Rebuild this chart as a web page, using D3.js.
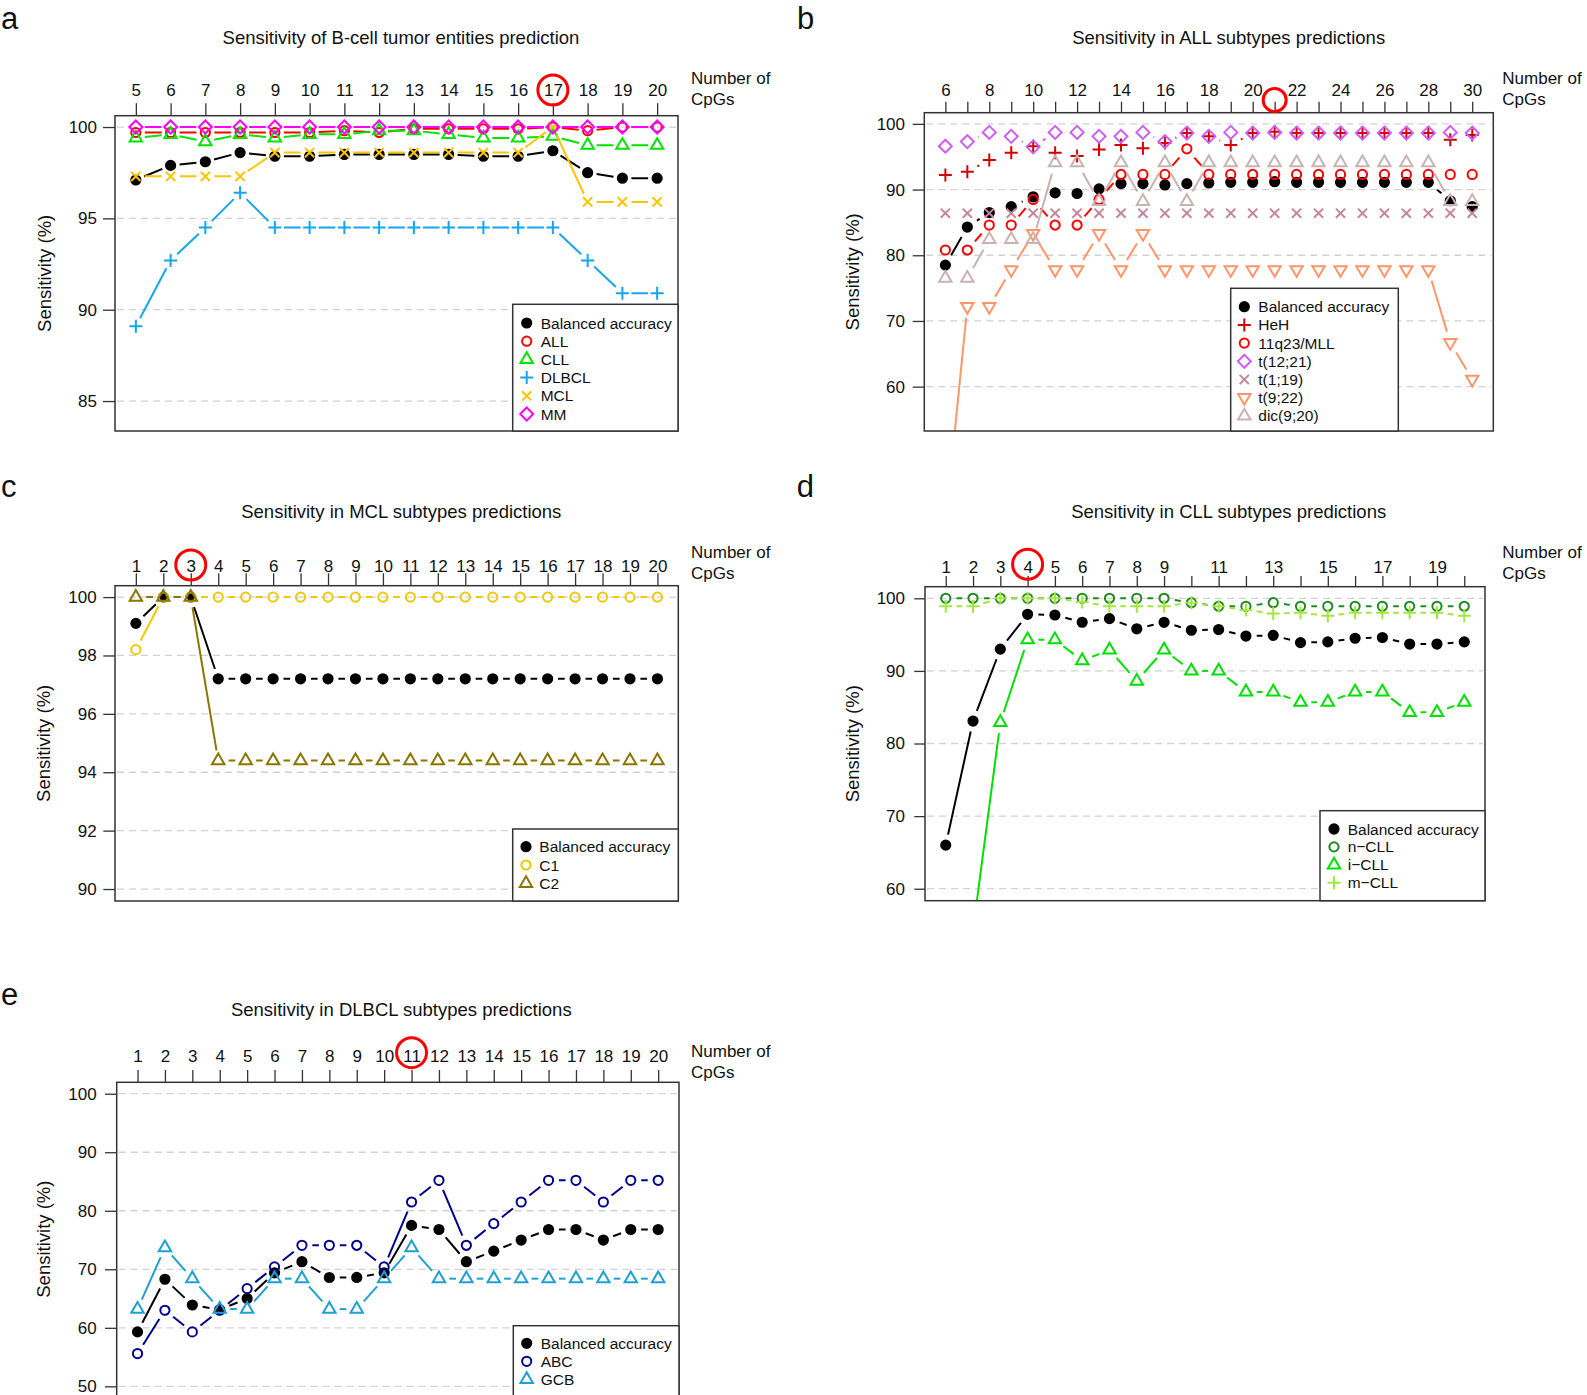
<!DOCTYPE html>
<html>
<head>
<meta charset="utf-8">
<script src="https://cdn.jsdelivr.net/npm/d3@7"></script>
<style>
  body { margin: 0; background: #fff; }
  svg { display: block; }
  text { font-family: "Liberation Sans", Arial, Helvetica, sans-serif; fill: #111; }
</style>
</head>
<body>
<svg id="fig" width="1587" height="1395"></svg>
<script>
// ---- data ----

// panel a: B-cell tumor entities
const cpgA = [5, 6, 7, 8, 9, 10, 11, 12, 13, 14, 15, 16, 17, 18, 19, 20];
const aBalanced = [97.1, 97.9, 98.1, 98.6, 98.4, 98.4, 98.5, 98.5, 98.5, 98.5, 98.4, 98.4, 98.7, 97.5, 97.2, 97.2];
const aALL   = [99.7, 99.7, 99.7, 99.7, 99.7, 99.7, 99.8, 99.7, 99.9, 99.9, 99.9, 99.9, 100, 99.8, 100, 100];
const aCLL   = [99.4, 99.6, 99.2, 99.6, 99.4, 99.6, 99.6, 99.8, 99.8, 99.6, 99.4, 99.4, 99.5, 99.0, 99.0, 99.0];
const aDLBCL = [89.1, 92.7, 94.5, 96.4, 94.5, 94.5, 94.5, 94.5, 94.5, 94.5, 94.5, 94.5, 94.5, 92.7, 90.9, 90.9];
const aMCL   = [97.3, 97.3, 97.3, 97.3, 98.6, 98.6, 98.6, 98.6, 98.6, 98.6, 98.6, 98.6, 100, 95.9, 95.9, 95.9];
const aMM    = [100, 100, 100, 100, 100, 100, 100, 100, 100, 100, 100, 100, 100, 100, 100, 100];
const yTicksA = [85, 90, 95, 100];

// panel b: ALL subtypes
const cpgB = [6, 7, 8, 9, 10, 11, 12, 13, 14, 15, 16, 17, 18, 19, 20, 21, 22, 23, 24, 25, 26, 27, 28, 29, 30];
const cpgLabelsB = [6, 8, 10, 12, 14, 16, 18, 20, 22, 24, 26, 28, 30];
const bBalanced = [78.5, 84.3, 86.5, 87.4, 88.9, 89.5, 89.4, 90.1, 90.9, 90.9, 90.7, 90.9, 91.0, 91.1, 91.1, 91.2, 91.1, 91.1, 91.1, 91.1, 91.1, 91.1, 91.1, 88.3, 87.4];
const bHeH    = [92.2, 92.7, 94.5, 95.6, 96.6, 95.6, 95.1, 96.1, 96.8, 96.3, 97.1, 98.6, 98.1, 96.8, 98.6, 98.8, 98.6, 98.6, 98.6, 98.6, 98.6, 98.6, 98.6, 97.6, 98.3];
const bMLL    = [80.8, 80.8, 84.6, 84.6, 88.5, 84.6, 84.6, 88.5, 92.3, 92.3, 92.3, 96.2, 92.3, 92.3, 92.3, 92.3, 92.3, 92.3, 92.3, 92.3, 92.3, 92.3, 92.3, 92.3, 92.3];
const bT1221  = [96.6, 97.3, 98.7, 98.1, 96.5, 98.7, 98.7, 98.1, 98.1, 98.7, 97.3, 98.6, 98.1, 98.7, 98.6, 98.7, 98.6, 98.6, 98.6, 98.6, 98.6, 98.6, 98.6, 98.7, 98.6];
const bT119   = [86.4, 86.4, 86.4, 86.4, 86.4, 86.4, 86.4, 86.4, 86.4, 86.4, 86.4, 86.4, 86.4, 86.4, 86.4, 86.4, 86.4, 86.4, 86.4, 86.4, 86.4, 86.4, 86.4, 86.4, 86.4];
const bT922   = [38.9, 72.2, 72.2, 77.8, 83.3, 77.8, 77.8, 83.3, 77.8, 83.3, 77.8, 77.8, 77.8, 77.8, 77.8, 77.8, 77.8, 77.8, 77.8, 77.8, 77.8, 77.8, 77.8, 66.7, 61.1];
const bDic920 = [76.5, 76.5, 82.4, 82.4, 82.4, 94.1, 94.1, 88.2, 94.1, 88.2, 94.1, 88.2, 94.1, 94.1, 94.1, 94.1, 94.1, 94.1, 94.1, 94.1, 94.1, 94.1, 94.1, 88.2, 88.2];
const yTicksB = [60, 70, 80, 90, 100];

// panel c: MCL subtypes
const cpgC = [1, 2, 3, 4, 5, 6, 7, 8, 9, 10, 11, 12, 13, 14, 15, 16, 17, 18, 19, 20];
const cBalanced = [99.1, 100, 100, 97.2, 97.2, 97.2, 97.2, 97.2, 97.2, 97.2, 97.2, 97.2, 97.2, 97.2, 97.2, 97.2, 97.2, 97.2, 97.2, 97.2];
const cC1 = [98.2, 100, 100, 100, 100, 100, 100, 100, 100, 100, 100, 100, 100, 100, 100, 100, 100, 100, 100, 100];
const cC2 = [100, 100, 100, 94.4, 94.4, 94.4, 94.4, 94.4, 94.4, 94.4, 94.4, 94.4, 94.4, 94.4, 94.4, 94.4, 94.4, 94.4, 94.4, 94.4];
const yTicksC = [90, 92, 94, 96, 98, 100];

// panel d: CLL subtypes
const cpgD = [1, 2, 3, 4, 5, 6, 7, 8, 9, 10, 11, 12, 13, 14, 15, 16, 17, 18, 19, 20];
const cpgLabelsD = [1, 2, 3, 4, 5, 6, 7, 8, 9, 11, 13, 15, 17, 19];
const dBalanced = [66.0, 83.1, 93.0, 97.8, 97.7, 96.7, 97.2, 95.8, 96.7, 95.6, 95.7, 94.8, 94.9, 93.9, 94.0, 94.5, 94.6, 93.7, 93.7, 94.0];
const dNCLL = [100, 100, 100, 100, 100, 100, 100, 100, 100, 99.4, 98.9, 98.9, 99.4, 98.9, 98.9, 98.9, 98.9, 98.9, 98.9, 98.9];
const dICLL = [31.4, 54.3, 82.9, 94.3, 94.3, 91.4, 92.9, 88.6, 92.9, 90.0, 90.0, 87.1, 87.1, 85.7, 85.7, 87.1, 87.1, 84.3, 84.3, 85.7];
const dMCLL = [98.9, 98.9, 100, 100, 100, 99.5, 98.9, 98.9, 98.9, 99.4, 98.9, 98.4, 97.9, 98.0, 97.6, 98.0, 98.0, 98.0, 98.0, 97.6];
const yTicksD = [60, 70, 80, 90, 100];

// panel e: DLBCL subtypes
const cpgE = [1, 2, 3, 4, 5, 6, 7, 8, 9, 10, 11, 12, 13, 14, 15, 16, 17, 18, 19, 20];
const eBalanced = [59.3, 68.3, 63.9, 63.1, 65.0, 69.4, 71.3, 68.6, 68.6, 69.4, 77.5, 76.8, 71.3, 73.1, 75.0, 76.8, 76.8, 75.0, 76.8, 76.8];
const eABC = [55.6, 63.0, 59.3, 63.0, 66.7, 70.4, 74.1, 74.1, 74.1, 70.4, 81.5, 85.2, 74.1, 77.8, 81.5, 85.2, 85.2, 81.5, 85.2, 85.2];
const eGCB = [63.2, 73.7, 68.4, 63.2, 63.2, 68.4, 68.4, 63.2, 63.2, 68.4, 73.7, 68.4, 68.4, 68.4, 68.4, 68.4, 68.4, 68.4, 68.4, 68.4];
const yTicksE = [50, 60, 70, 80, 90, 100];

const titles = [
  "Sensitivity of B-cell tumor entities prediction",
  "Sensitivity in ALL subtypes predictions",
  "Sensitivity in MCL subtypes predictions",
  "Sensitivity in CLL subtypes predictions",
  "Sensitivity in DLBCL subtypes predictions"
];
const chosenCpG = [17, 21, 3, 4, 11];

// ---- drawing ----
const svg = d3.select("#fig");
const RAD = 4.6;

function markPath(shape, cx, cy) {
  const p = d3.path();
  const s2 = Math.SQRT2 * RAD;
  if (shape === "dot" || shape === "circle") {
    p.moveTo(cx + RAD, cy);
    p.arc(cx, cy, RAD, 0, 2 * Math.PI);
  } else if (shape === "tri" || shape === "down") {
    const k = shape === "tri" ? 1 : -1;
    p.moveTo(cx, cy - k * 1.555 * RAD);
    p.lineTo(cx + 1.347 * RAD, cy + k * 0.778 * RAD);
    p.lineTo(cx - 1.347 * RAD, cy + k * 0.778 * RAD);
    p.closePath();
  } else if (shape === "plus") {
    p.moveTo(cx - s2, cy); p.lineTo(cx + s2, cy);
    p.moveTo(cx, cy - s2); p.lineTo(cx, cy + s2);
  } else if (shape === "times") {
    p.moveTo(cx - RAD, cy - RAD); p.lineTo(cx + RAD, cy + RAD);
    p.moveTo(cx - RAD, cy + RAD); p.lineTo(cx + RAD, cy - RAD);
  } else if (shape === "diamond") {
    p.moveTo(cx, cy - s2); p.lineTo(cx + s2, cy);
    p.lineTo(cx, cy + s2); p.lineTo(cx - s2, cy);
    p.closePath();
  }
  return p.toString();
}

function drawPanel(cfg) {
  const [x0, x1, y0, y1] = cfg.box;
  const x = d3.scaleLinear().domain(cfg.xDomain).range([x0, x1]);
  const y = d3.scaleLinear().domain(cfg.yDomain).range([y1, y0]);
  const g = svg.append("g");

  const clipId = "clip-" + cfg.letter;
  svg.append("clipPath").attr("id", clipId)
    .append("rect").attr("x", x0).attr("y", y0).attr("width", x1 - x0).attr("height", y1 - y0);

  // dashed grid
  g.append("g").selectAll("line").data(cfg.yTicks).join("line")
    .attr("x1", x0 + 2).attr("x2", x1 - 2)
    .attr("y1", d => y(d)).attr("y2", d => y(d))
    .attr("stroke", "#d2d2d2").attr("stroke-width", 1.3)
    .attr("stroke-dasharray", "7,5");

  // series, R type="b" style: segments with a gap round each point
  const plot = g.append("g").attr("clip-path", `url(#${clipId})`);
  cfg.series.forEach(s => {
    const pts = s.values.map((v, i) => [x(cfg.xVals[i]), y(v)]);
    const segs = d3.pairs(pts).map(([a, b]) => {
      const dx = b[0] - a[0], dy = b[1] - a[1];
      const len = Math.hypot(dx, dy);
      if (len <= 2 * cfg.gap) return null;
      const ux = dx / len, uy = dy / len;
      return [a[0] + ux * cfg.gap, a[1] + uy * cfg.gap, b[0] - ux * cfg.gap, b[1] - uy * cfg.gap];
    }).filter(d => d);
    plot.append("g").selectAll("line").data(segs).join("line")
      .attr("x1", d => d[0]).attr("y1", d => d[1])
      .attr("x2", d => d[2]).attr("y2", d => d[3])
      .attr("stroke", s.color).attr("stroke-width", 2);
    plot.append("g").selectAll("path").data(pts).join("path")
      .attr("d", p => markPath(s.shape, p[0], p[1]))
      .attr("fill", s.shape === "dot" ? s.color : "none")
      .attr("stroke", s.color).attr("stroke-width", 2);
  });

  // plot box
  g.append("rect").attr("x", x0).attr("y", y0)
    .attr("width", x1 - x0).attr("height", y1 - y0)
    .attr("fill", "none").attr("stroke", "#333").attr("stroke-width", 1.5);

  // top axis (number of CpGs)
  const xAxis = d3.axisTop(x).tickValues(cfg.xVals)
    .tickSize(cfg.xTick).tickPadding(cfg.xPad)
    .tickFormat(d => cfg.xLabels.includes(d) ? d : "");
  const gx = g.append("g").attr("transform", `translate(0,${y0})`).call(xAxis);
  gx.select(".domain").remove();
  gx.attr("font-size", null).attr("font-family", null);
  gx.selectAll("line").attr("stroke", "#333").attr("stroke-width", 1.3);
  gx.selectAll("text").style("font-size", "17px");

  // left axis
  const yAxis = d3.axisLeft(y).tickValues(cfg.yTicks).tickSize(cfg.yTick).tickPadding(cfg.yPad);
  const gy = g.append("g").attr("transform", `translate(${x0},0)`).call(yAxis);
  gy.select(".domain").remove();
  gy.attr("font-size", null).attr("font-family", null);
  gy.selectAll("line").attr("stroke", "#333").attr("stroke-width", 1.3);
  gy.selectAll("text").style("font-size", "17px");

  // labels
  g.append("text").attr("x", cfg.titleX).attr("y", cfg.titleY).attr("dy", "0.35em")
    .attr("text-anchor", "middle").style("font-size", "18.5px").text(cfg.title);
  g.append("text")
    .attr("transform", `translate(${cfg.ylabX},${(y0 + y1) / 2}) rotate(-90)`)
    .attr("dy", "0.35em").attr("text-anchor", "middle")
    .style("font-size", "18.5px").text("Sensitivity (%)");
  const nt = g.append("text").attr("x", cfg.cpgX).style("font-size", "17px");
  nt.append("tspan").attr("x", cfg.cpgX).attr("y", cfg.cpgY).attr("dy", "0.35em").text("Number of");
  nt.append("tspan").attr("x", cfg.cpgX).attr("y", cfg.cpgY + 21).attr("dy", "0.35em").text("CpGs");
  g.append("text").attr("x", cfg.letterX).attr("y", cfg.letterY)
    .style("font-size", "31px").text(cfg.letter);

  // chosen number of CpGs
  g.append("circle").attr("cx", x(cfg.chosen)).attr("cy", cfg.ringY).attr("r", cfg.ringR)
    .attr("fill", "none").attr("stroke", "#ff0000").attr("stroke-width", 3);

  // legend
  const [lx0, lx1, ly0, ly1] = cfg.legBox;
  const lg = g.append("g");
  lg.append("rect").attr("x", lx0).attr("y", ly0).attr("width", lx1 - lx0).attr("height", ly1 - ly0)
    .attr("fill", "#fff").attr("stroke", "#333").attr("stroke-width", 1.5);
  const rows = lg.selectAll("g.row").data(cfg.series).join("g").attr("class", "row")
    .attr("transform", (d, i) => `translate(0,${cfg.legY + i * cfg.legStep})`);
  rows.append("path").attr("d", d => markPath(d.shape, cfg.legSymX, 0))
    .attr("fill", d => d.shape === "dot" ? d.color : "none")
    .attr("stroke", d => d.color).attr("stroke-width", 2);
  rows.append("text").attr("x", cfg.legTextX).attr("dy", "0.36em")
    .style("font-size", "15.5px").text(d => d.name);
}

const panels = [
  {
    letter: "a", letterX: 1, letterY: 28.5,
    box: [115, 678, 115.7, 431], xDomain: [4.4, 20.6], yDomain: [83.36, 100.62],
    xVals: cpgA, xLabels: cpgA, yTicks: yTicksA,
    xTick: 12.5, xPad: 7, yTick: 12, yPad: 6, gap: 9,
    title: titles[0], titleX: 401, titleY: 38, ylabX: 45,
    cpgX: 691, cpgY: 78, chosen: chosenCpG[0], ringY: 90, ringR: 15,
    legBox: [512.7, 678, 304.3, 431], legY: 323, legStep: 18.2, legSymX: 526.7, legTextX: 540.7,
    series: [
      { name: "Balanced accuracy", values: aBalanced, shape: "dot", color: "#000000" },
      { name: "ALL", values: aALL, shape: "circle", color: "#ff0000" },
      { name: "CLL", values: aCLL, shape: "tri", color: "#00e400" },
      { name: "DLBCL", values: aDLBCL, shape: "plus", color: "#14a6ea" },
      { name: "MCL", values: aMCL, shape: "times", color: "#ffc400" },
      { name: "MM", values: aMM, shape: "diamond", color: "#ff00ff" }
    ]
  },
  {
    letter: "b", letterX: 797, letterY: 28.5,
    box: [924.3, 1493.3, 112.7, 431], xDomain: [5.04, 30.96], yDomain: [53.25, 101.7],
    xVals: cpgB, xLabels: cpgLabelsB, yTicks: yTicksB,
    xTick: 11, xPad: 5.6, yTick: 11.6, yPad: 7.7, gap: 11.5,
    title: titles[1], titleX: 1228.7, titleY: 38, ylabX: 853,
    cpgX: 1502.3, cpgY: 78, chosen: chosenCpG[1], ringY: 100, ringR: 11.5,
    legBox: [1230.7, 1398.3, 288.3, 431], legY: 306.7, legStep: 18.2, legSymX: 1244.3, legTextX: 1258.3,
    series: [
      { name: "Balanced accuracy", values: bBalanced, shape: "dot", color: "#000000" },
      { name: "HeH", values: bHeH, shape: "plus", color: "#d40000" },
      { name: "11q23/MLL", values: bMLL, shape: "circle", color: "#ff0000" },
      { name: "t(12;21)", values: bT1221, shape: "diamond", color: "#cf5cf5" },
      { name: "t(1;19)", values: bT119, shape: "times", color: "#c3869a" },
      { name: "t(9;22)", values: bT922, shape: "down", color: "#ff966a" },
      { name: "dic(9;20)", values: bDic920, shape: "tri", color: "#c9b2b2" }
    ]
  },
  {
    letter: "c", letterX: 1, letterY: 496.7,
    box: [115, 678.3, 585.7, 901], xDomain: [0.24, 20.76], yDomain: [89.59, 100.39],
    xVals: cpgC, xLabels: cpgC, yTicks: yTicksC,
    xTick: 12.4, xPad: 1.2, yTick: 11.7, yPad: 6.6, gap: 10.4,
    title: titles[2], titleX: 401.3, titleY: 511.7, ylabX: 43.3,
    cpgX: 691, cpgY: 551.7, chosen: chosenCpG[2], ringY: 565, ringR: 15,
    legBox: [512.7, 678.3, 829, 901], legY: 846.7, legStep: 18.3, legSymX: 526, legTextX: 539.3,
    series: [
      { name: "Balanced accuracy", values: cBalanced, shape: "dot", color: "#000000" },
      { name: "C1", values: cC1, shape: "circle", color: "#eec900" },
      { name: "C2", values: cC2, shape: "tri", color: "#8b7500" }
    ]
  },
  {
    letter: "d", letterX: 796.7, letterY: 496.7,
    box: [925, 1485, 586.7, 900.7], xDomain: [0.24, 20.76], yDomain: [58.35, 101.6],
    xVals: cpgD, xLabels: cpgLabelsD, yTicks: yTicksD,
    xTick: 10.7, xPad: 3.2, yTick: 10.7, yPad: 9.3, gap: 10.8,
    title: titles[3], titleX: 1228.7, titleY: 511.7, ylabX: 852.3,
    cpgX: 1502.3, cpgY: 551.7, chosen: chosenCpG[3], ringY: 564.3, ringR: 15,
    legBox: [1320, 1485, 810.7, 900.7], legY: 829, legStep: 17.9, legSymX: 1334, legTextX: 1347.7,
    series: [
      { name: "Balanced accuracy", values: dBalanced, shape: "dot", color: "#000000" },
      { name: "n\u2212CLL", values: dNCLL, shape: "circle", color: "#1f8a1f" },
      { name: "i\u2212CLL", values: dICLL, shape: "tri", color: "#00e000" },
      { name: "m\u2212CLL", values: dMCLL, shape: "plus", color: "#a2e640" }
    ]
  },
  {
    letter: "e", letterX: 1, letterY: 1005,
    box: [116.7, 679, 1082.3, 1396], xDomain: [0.24, 20.76], yDomain: [48.35, 101.95],
    xVals: cpgE, xLabels: cpgE, yTicks: yTicksE,
    xTick: 12.3, xPad: 7.9, yTick: 11.7, yPad: 8.3, gap: 10.4,
    title: titles[4], titleX: 401.3, titleY: 1009.3, ylabX: 43.3,
    cpgX: 691, cpgY: 1051, chosen: chosenCpG[4], ringY: 1052.7, ringR: 15,
    legBox: [513.3, 679, 1325.7, 1400], legY: 1343.3, legStep: 18, legSymX: 526.7, legTextX: 540.7,
    series: [
      { name: "Balanced accuracy", values: eBalanced, shape: "dot", color: "#000000" },
      { name: "ABC", values: eABC, shape: "circle", color: "#00008b" },
      { name: "GCB", values: eGCB, shape: "tri", color: "#1ea0d2" }
    ]
  }
];

panels.forEach(drawPanel);
</script>
</body>
</html>
